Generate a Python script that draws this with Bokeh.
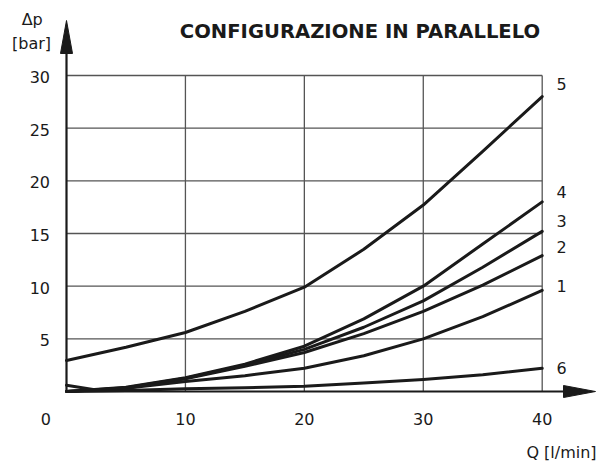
from bokeh.plotting import figure
from bokeh.models import Range1d
from bokeh.core.properties import value
from bokeh.embed import file_html
from bokeh.resources import INLINE

# ---------------- data ----------------
q = [0, 5, 10, 15, 20, 25, 30, 35, 40]
dp_5 = [2.95, 4.2, 5.6, 7.6, 9.9, 13.5, 17.7, 22.8, 28.0]
dp_4 = [0.0, 0.4, 1.3, 2.6, 4.3, 6.9, 10.0, 14.0, 18.0]
dp_3 = [0.0, 0.35, 1.25, 2.5, 4.0, 6.1, 8.6, 11.8, 15.2]
dp_2 = [0.0, 0.3, 1.2, 2.4, 3.7, 5.5, 7.6, 10.1, 12.9]
q_1 = [0, 2.5, 5, 10, 15, 20, 25, 30, 35, 40]
dp_1 = [0.6, 0.15, 0.3, 0.95, 1.5, 2.2, 3.4, 5.0, 7.1, 9.6]
dp_6 = [0.0, 0.1, 0.25, 0.35, 0.5, 0.8, 1.15, 1.6, 2.2]

curve_names = ["5", "4", "3", "2", "1", "6"]
x_ticks = [10, 20, 30, 40]
y_ticks = [5, 10, 15, 20, 25, 30]
x_max = 40
y_max = 30

title = "CONFIGURAZIONE IN PARALLELO"
y_label_1 = "\u0394p"
y_label_2 = "[bar]"
x_label = "Q [l/min]"

# ---------------- layout (positions) ----------------
W, H = 601, 461
sx = 475.7 / 40.0       # px per unit in x
sy = 316.0 / 30.0       # px per unit in y
x_start = -66.0 / sx
x_end = x_start + W / sx
y_end = 30 + 75.0 / sy
y_start = y_end - H / sy


def dx(px):
    return (px - 66.0) / sx


def dy(py):
    return (391.0 - py) / sy


FONT = value("DejaVu Sans")
INK = "#1a1a1a"
GRID = "#555555"

p = figure(width=W, height=H, output_backend="svg", toolbar_location=None,
           x_axis_location=None, y_axis_location=None,
           x_range=Range1d(x_start, x_end), y_range=Range1d(y_start, y_end),
           min_border=0, outline_line_color=None)
p.grid.visible = False
p.background_fill_color = "white"
p.border_fill_color = "white"

# grid
p.multi_line(xs=[[t, t] for t in x_ticks], ys=[[0, y_max] for _ in x_ticks],
             line_color=GRID, line_width=1.3)
p.multi_line(xs=[[0, x_max] for _ in y_ticks], ys=[[t, t] for t in y_ticks],
             line_color=GRID, line_width=1.3)

# curves
for xs, ys in [(q, dp_5), (q, dp_4), (q, dp_3), (q, dp_2), (q_1, dp_1), (q, dp_6)]:
    p.line(xs, ys, line_color=INK, line_width=3, line_join="round", line_cap="round")

# axes with arrow heads
y_tip, y_base = dy(20), dy(53)
x_tip, x_base = dx(595), dx(563)
hw_x = 6.0 / sx
hw_y = 6.0 / sy
p.line([0, 0], [0, y_base], line_color=INK, line_width=2.2)
p.line([0, x_base], [0, 0], line_color=INK, line_width=2.2)
p.patch([-hw_x, 0, hw_x], [y_base, y_tip, y_base], fill_color=INK, line_color=INK)
p.patch([x_base, x_tip, x_base], [-hw_y, 0, hw_y], fill_color=INK, line_color=INK)

# tick labels
tick_dy = -1.6 / sy
p.text(x=[dx(49.5)] * len(y_ticks), y=[t + tick_dy for t in y_ticks],
       text=[str(t) for t in y_ticks],
       text_font=FONT, text_font_size="16px", text_align="right",
       text_baseline="middle", text_color=INK)
p.text(x=x_ticks, y=[dy(418)] * len(x_ticks), text=[str(t) for t in x_ticks],
       text_font=FONT, text_font_size="16px", text_align="center",
       text_baseline="middle", text_color=INK)
p.text(x=[dx(45.3)], y=[dy(418)], text=["0"],
       text_font=FONT, text_font_size="16px", text_align="center",
       text_baseline="middle", text_color=INK)

# curve labels
label_py = [83.5, 191, 220, 246, 285, 367.5]
p.text(x=[dx(561)] * len(curve_names), y=[dy(v) for v in label_py], text=curve_names,
       text_font=FONT, text_font_size="16px", text_align="center",
       text_baseline="middle", text_color=INK)

# axis titles
p.text(x=[dx(31.7)], y=[dy(19)], text=[y_label_1], text_font=FONT, text_font_size="16px",
       text_align="center", text_baseline="middle", text_color=INK)
p.text(x=[dx(31)], y=[dy(43)], text=[y_label_2], text_font=FONT, text_font_size="16px",
       text_align="center", text_baseline="middle", text_color=INK)
p.text(x=[dx(561)], y=[dy(452)], text=[x_label], text_font=FONT, text_font_size="16px",
       text_align="center", text_baseline="middle", text_color=INK)

# title
p.text(x=[dx(359.5)], y=[dy(31)], text=[title], text_font=FONT, text_font_size="19.6px",
       text_font_style="bold", text_align="center", text_baseline="middle",
       text_color=INK)

open("out.html", "w").write(file_html(p, INLINE))
